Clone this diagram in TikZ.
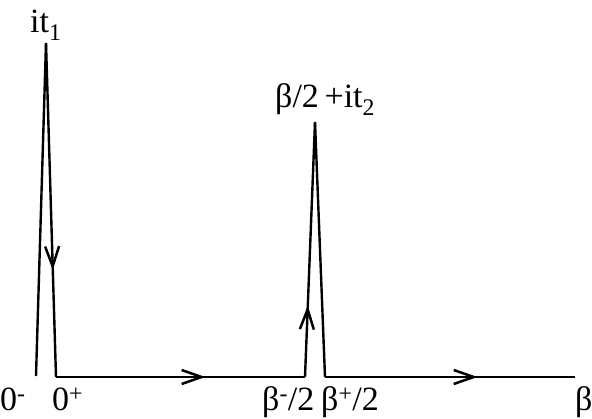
\documentclass[tikz,border=0pt]{standalone}
\usepackage{fontspec}
\setmainfont{Liberation Serif}
\usetikzlibrary{arrows.meta,decorations.markings}
\tikzset{
  contour/.style={line width=2.4pt, black, line join=miter},
  lbl/.style={inner sep=0pt, font=\fontsize{34}{38}\selectfont},
  botlbl/.style={lbl, anchor=base west, text depth=0pt},
  midarrow/.style={postaction={decorate, decoration={markings,
      mark=at position #1 with {\arrow{Straight Barb[length=20pt,width=14pt,line width=2.5pt]}}}}}
}
\begin{document}
\begin{tikzpicture}[x=1pt,y=-1pt]
\useasboundingbox (0,0) rectangle (592,419);
% contour points
\coordinate (zm) at (36,376);
\coordinate (p1) at (46,43);
\coordinate (zp) at (56,377);
\coordinate (bm) at (305,377);
\coordinate (p2) at (315,122);
\coordinate (bp) at (325,377);
\coordinate (be) at (575,377);
% contour
\draw[contour] (zm) -- (p1);
\draw[contour, midarrow=0.68] (p1) -- (zp);
\draw[contour, midarrow=0.60] (zp) -- (bm);
\draw[contour, midarrow=0.28] (bm) -- (p2);
\draw[contour] (p2) -- (bp);
\draw[contour, midarrow=0.61] (bp) -- (be);
% labels
\node[lbl, anchor=base west] (t1) at (30,33) {it\textsubscript{1}};
\node[lbl, anchor=base west] (t2) at (275,108) {β/2\,+it\textsubscript{2}};
\node[botlbl] (l0m) at (0,411) {0\textsuperscript{-}};
\node[botlbl] (l0p) at (52,411) {0\textsuperscript{+}};
\node[botlbl] (lbm) at (262,411) {β\textsuperscript{-}/2};
\node[botlbl] (lbp) at (321,411) {β\textsuperscript{+}/2};
\node[botlbl] (lb) at (575,411) {β};
\end{tikzpicture}
\end{document}
